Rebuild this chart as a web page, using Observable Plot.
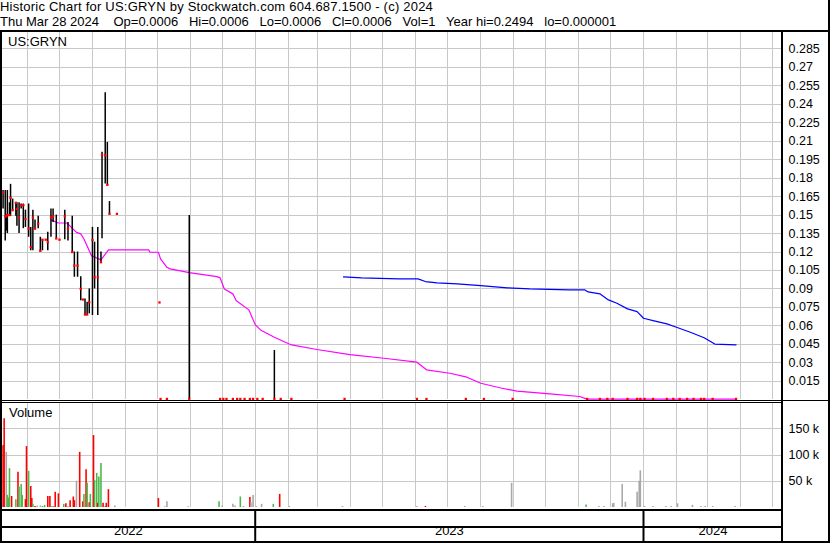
<!DOCTYPE html>
<html><head><meta charset="utf-8">
<script src="https://cdn.jsdelivr.net/npm/d3@7"></script>
<script src="https://cdn.jsdelivr.net/npm/@observablehq/plot@0.6"></script>
<style>
body{margin:0;background:#fff;}
#wrap{position:relative;width:830px;height:543px;overflow:hidden;background:#fff;font-family:"Liberation Sans",Arial,sans-serif;color:#000}
.txt{position:absolute;white-space:pre;font-size:13px;line-height:13px;z-index:3}
.ln{position:absolute;background:#000;z-index:4}
.pl{position:absolute;left:0;z-index:1}
.pl svg{background:transparent !important;overflow:visible}
</style></head><body><div id="wrap"></div>
<script>
// ---------- data ----------
const headerLine1 = "Historic Chart for US:GRYN by Stockwatch.com 604.687.1500 - (c) 2024";
const headerLine2 = "Thu Mar 28 2024    Op=0.0006   Hi=0.0006   Lo=0.0006   Cl=0.0006   Vol=1   Year hi=0.2494   lo=0.000001";
const symbolLabel = "US:GRYN";
const volumeLabel = "Volume";

const priceTicks = [0.015,0.03,0.045,0.06,0.075,0.09,0.105,0.12,0.135,0.15,0.165,0.18,0.195,0.21,0.225,0.24,0.255,0.27,0.285];
const volumeTicks = [50000,100000,150000];
const years = ["2022","2023","2024"];
const yearStarts = ["2022-01-01","2023-01-01","2024-01-01"];
const yearEnds = ["2023-01-01","2024-01-01","2025-01-01"];
const viewStart = "2022-05-07T12:00Z";
const viewEnd = "2024-05-10T16:00Z";

// daily bars: high / low / close
const barDates = ["2022-05-09","2022-05-11","2022-05-12","2022-05-13","2022-05-15","2022-05-16","2022-05-18","2022-05-21","2022-05-22","2022-05-24","2022-05-26","2022-05-28","2022-05-30","2022-06-02","2022-06-04","2022-06-06","2022-06-08","2022-06-11","2022-06-13","2022-06-15","2022-06-18","2022-06-20","2022-06-23","2022-06-25","2022-06-28","2022-07-01","2022-07-06","2022-07-09","2022-07-13","2022-07-15","2022-07-18","2022-07-21","2022-07-23","2022-07-25","2022-07-27","2022-07-29","2022-08-01","2022-08-03","2022-08-06","2022-08-09","2022-08-10","2022-08-13","2022-08-15","2022-08-17","2022-08-24","2022-10-03","2022-10-04","2022-10-10","2022-10-31","2022-11-29","2022-12-02","2022-12-05","2022-12-11","2022-12-15","2022-12-18","2022-12-22","2022-12-27","2022-12-30","2023-01-03","2023-01-08","2023-01-19","2023-01-25","2023-02-04","2023-03-26","2023-06-02","2023-06-11","2023-07-18","2023-08-04","2023-08-31","2023-11-09","2023-11-21","2023-11-28","2023-12-03","2023-12-17","2023-12-26","2023-12-29","2024-01-02","2024-01-10","2024-01-23","2024-01-29","2024-02-04","2024-02-11","2024-02-17","2024-02-24","2024-02-27","2024-03-06","2024-03-28"];
const barHigh = [0.170,0.170,0.150,0.170,0.160,0.175,0.163,0.160,0.160,0.160,0.159,0.159,0.154,0.159,0.140,0.154,0.146,0.149,0.132,0.130,0.130,0.136,0.155,0.155,0.150,0.130,0.154,0.144,0.149,0.120,0.120,0.100,0.0814,0.0819,0.0792,0.090,0.140,0.128,0.140,0.120,0.201,0.2494,0.209,0.161,0.151,0.079,0.0006,0.0006,0.1497,0.0006,0.0006,0.0006,0.0006,0.0006,0.0006,0.0006,0.0006,0.0006,0.0006,0.0006,0.040,0.0006,0.0006,0.0006,0.0006,0.0006,0.0006,0.0006,0.0006,0.0006,0.0006,0.0006,0.0006,0.0006,0.0006,0.0006,0.0006,0.0006,0.0006,0.0006,0.0006,0.0006,0.0006,0.0006,0.0006,0.0006,0.0006];
const barLow = [0.155,0.129,0.137,0.135,0.149,0.149,0.154,0.149,0.141,0.135,0.155,0.139,0.140,0.132,0.121,0.121,0.139,0.139,0.120,0.121,0.130,0.121,0.132,0.144,0.131,0.130,0.130,0.129,0.120,0.0995,0.0995,0.0805,0.0814,0.0684,0.0692,0.0698,0.0684,0.090,0.0684,0.1117,0.1307,0.1753,0.174,0.151,0.151,0.079,0.0006,0.0006,0.0006,0.0006,0.0006,0.0006,0.0006,0.0006,0.0006,0.0006,0.0006,0.0006,0.0006,0.0006,0.0006,0.0006,0.0006,0.0006,0.0006,0.0006,0.0006,0.0006,0.0006,0.0006,0.0006,0.0006,0.0006,0.0006,0.0006,0.0006,0.0006,0.0006,0.0006,0.0006,0.0006,0.0006,0.0006,0.0006,0.0006,0.0006,0.0006];
const barClose = [0.1685,0.149,0.149,0.150,0.150,0.164,0.154,0.160,0.155,0.148,0.158,0.158,0.147,0.139,0.124,0.148,0.139,0.143,0.121,0.130,0.130,0.128,0.148,0.149,0.131,0.130,0.149,0.139,0.120,0.109,0.109,0.090,0.0814,0.0692,0.0692,0.0792,0.1298,0.0995,0.0995,0.1117,0.199,0.1985,0.1745,0.151,0.151,0.079,0.0006,0.0006,0.0006,0.0006,0.0006,0.0006,0.0006,0.0006,0.0006,0.0006,0.0006,0.0006,0.0006,0.0006,0.0006,0.0006,0.0006,0.0006,0.0006,0.0006,0.0006,0.0006,0.0006,0.0006,0.0006,0.0006,0.0006,0.0006,0.0006,0.0006,0.0006,0.0006,0.0006,0.0006,0.0006,0.0006,0.0006,0.0006,0.0006,0.0006,0.0006];

// short moving average (magenta)
const maShortDates = ["2022-06-23","2022-06-30","2022-07-08","2022-07-17","2022-07-21","2022-07-24","2022-07-31","2022-08-09","2022-08-16","2022-09-23","2022-09-24","2022-10-02","2022-10-04","2022-10-10","2022-10-13","2022-10-31","2022-11-26","2022-11-29","2022-12-03","2022-12-11","2022-12-14","2022-12-26","2023-01-01","2023-01-06","2023-01-19","2023-02-03","2023-02-28","2023-03-31","2023-05-02","2023-06-02","2023-06-11","2023-07-03","2023-07-19","2023-08-01","2023-08-19","2023-09-04","2023-10-05","2023-11-02","2023-11-09","2024-03-28"];
const maShortValues = [0.1461,0.1436,0.1436,0.136,0.1347,0.1306,0.1171,0.1136,0.1217,0.1217,0.1198,0.1198,0.1144,0.1076,0.1063,0.1033,0.1000,0.0990,0.0900,0.0860,0.0806,0.0730,0.0610,0.0567,0.0508,0.0448,0.0408,0.0367,0.0337,0.0305,0.0243,0.0215,0.0183,0.0134,0.0097,0.0069,0.0048,0.0026,0.0005,0.0005];

// long moving average (blue)
const maLongDates = ["2023-03-25","2023-04-11","2023-05-16","2023-06-03","2023-06-10","2023-06-21","2023-07-10","2023-08-01","2023-08-26","2023-09-16","2023-10-23","2023-11-07","2023-11-10","2023-11-21","2023-11-29","2023-12-07","2023-12-17","2023-12-26","2024-01-01","2024-01-10","2024-01-23","2024-02-01","2024-02-14","2024-02-27","2024-03-08","2024-03-28"];
const maLongValues = [0.0998,0.0990,0.0982,0.0982,0.0960,0.0949,0.0941,0.0927,0.0909,0.0900,0.0892,0.0892,0.0876,0.0860,0.0811,0.0784,0.0738,0.0716,0.0662,0.0643,0.0616,0.0589,0.0548,0.0503,0.0452,0.0446];

// volume: d = down (red), u = up (green), f = flat (grey)
const volDates = ["2022-05-09","2022-05-10","2022-05-12","2022-05-13","2022-05-14","2022-05-15","2022-05-17","2022-05-21","2022-05-23","2022-05-24","2022-05-26","2022-05-27","2022-05-30","2022-05-31","2022-06-02","2022-06-04","2022-06-05","2022-06-06","2022-06-08","2022-06-10","2022-06-13","2022-06-15","2022-06-17","2022-06-20","2022-06-22","2022-06-23","2022-06-25","2022-06-27","2022-06-30","2022-07-05","2022-07-07","2022-07-09","2022-07-11","2022-07-14","2022-07-15","2022-07-17","2022-07-20","2022-07-23","2022-07-24","2022-07-26","2022-07-27","2022-07-29","2022-07-30","2022-08-02","2022-08-03","2022-08-05","2022-08-06","2022-08-07","2022-08-09","2022-08-11","2022-08-13","2022-08-14","2022-08-16","2022-08-22","2022-10-02","2022-10-08","2022-10-10","2022-10-30","2022-11-28","2022-12-01","2022-12-11","2022-12-13","2022-12-18","2022-12-21","2022-12-27","2022-12-28","2022-12-30","2023-01-02","2023-01-07","2023-01-18","2023-01-24","2023-02-02","2023-03-24","2023-06-02","2023-06-10","2023-07-17","2023-08-03","2023-08-30","2023-11-08","2023-11-20","2023-11-25","2023-12-03","2023-12-04","2023-12-12","2023-12-15","2023-12-26","2023-12-28","2023-12-29","2024-01-02","2024-01-10","2024-01-22","2024-01-27","2024-02-02","2024-02-16","2024-02-24","2024-02-28","2024-03-06","2024-03-27"];
const volValues = [118000,169000,105000,23000,18000,74000,21000,15000,67000,39000,44000,23000,15000,116000,69000,40000,17000,6000,2000,3000,3000,2000,4000,21000,21000,2000,1500,29000,26000,6000,7000,1500,13000,20000,13000,50000,105000,11000,25000,72000,46000,9000,25000,137000,51000,65000,8000,58000,84000,8000,2000,8000,34000,3000,17000,1500,11000,1500,11000,3000,6000,3000,20000,2000,19000,9000,23000,1500,6000,6000,25000,2000,2000,2000,2000,2000,2000,46000,5000,2000,2000,7000,8000,44000,10000,29000,50000,70000,2000,2000,2000,2000,7000,4000,2000,2000,2000,2000];
const volDir = ["d","d","f","u","u","u","d","u","d","u","u","u","d","d","u","d","d","u","d","f","f","u","u","d","d","u","d","d","d","u","d","u","d","d","d","f","d","d","u","d","u","d","u","d","u","u","d","u","u","d","u","d","d","f","d","f","f","f","u","f","f","f","u","f","d","f","f","f","f","u","d","f","f","f","d","f","f","f","u","f","f","f","f","f","f","f","f","f","f","f","f","f","f","f","f","f","f","f"];

// ---------- build ----------
const FONT = '"Liberation Sans", Arial, sans-serif';
const GRID = "#c8c8c8";
const xDomain = [new Date(viewStart), new Date(viewEnd)];
const monthStarts = d3.utcMonth.range(xDomain[0], xDomain[1]);

const bars = barDates.map((d, i) => ({date: new Date(d), high: barHigh[i], low: barLow[i], close: barClose[i]}));
const maShort = maShortDates.map((d, i) => ({date: new Date(d), value: maShortValues[i]}));
const maLong = maLongDates.map((d, i) => ({date: new Date(d), value: maLongValues[i]}));
const vols = volDates.map((d, i) => ({date: new Date(d), vol: volValues[i], dir: volDir[i]}));
const yearRows = years.map((y, i) => {
  const s = Math.max(+new Date(yearStarts[i]), +xDomain[0]);
  const e = Math.min(+new Date(yearEnds[i]), +xDomain[1]);
  return {label: y, mid: new Date((s + e) / 2), start: new Date(yearStarts[i])};
});
const boundaries = yearRows.filter(r => r.start > xDomain[0]).map(r => r.start);

const common = {
  width: 830, marginLeft: 1, marginRight: 48, marginTop: 0,
  style: {fontFamily: FONT, fontSize: "12.5px", color: "#000", background: "transparent", overflow: "visible"},
  x: {type: "utc", domain: xDomain, axis: null}
};

const pricePlot = Plot.plot({
  ...common, height: 370, marginBottom: 0.8,
  y: {domain: [0, 0.3], axis: "right", ticks: priceTicks, tickSize: 0, tickPadding: 6,
      tickFormat: d => String(+d.toFixed(3)), label: null},
  marks: [
    Plot.ruleX(monthStarts, {stroke: GRID, strokeOpacity: 1, shapeRendering: "crispEdges"}),
    Plot.ruleY(priceTicks, {stroke: GRID, strokeOpacity: 1, shapeRendering: "crispEdges"}),
    Plot.line(maShort, {x: "date", y: "value", stroke: "#ff00ff", strokeWidth: 1.2}),
    Plot.line(maLong, {x: "date", y: "value", stroke: "#0000ff", strokeWidth: 1.2}),
    Plot.ruleX(bars, {x: "date", y1: "low", y2: "high", stroke: "#000", strokeWidth: 1.5}),
    Plot.dot(bars, {x: "date", y: "close", symbol: "square", r: 1.3, fill: "#ff0000", stroke: null})
  ]
});

const volumePlot = Plot.plot({
  ...common, height: 107, marginBottom: 2,
  y: {domain: [0, 200000], axis: "right", ticks: volumeTicks, tickSize: 0, tickPadding: 6,
      tickFormat: d => (d / 1000) + " k", label: null},
  color: {domain: ["d", "u", "f"], range: ["#ff0000", "#4cb84c", "#a8a8a8"]},
  marks: [
    Plot.ruleX(monthStarts, {stroke: GRID, strokeOpacity: 1, shapeRendering: "crispEdges"}),
    Plot.ruleY(volumeTicks, {stroke: GRID, strokeOpacity: 1, shapeRendering: "crispEdges"}),
    Plot.ruleX(vols, {x: "date", y1: 0, y2: "vol", stroke: "dir", strokeWidth: 1.6})
  ]
});

const datePlot = Plot.plot({
  ...common, height: 34, marginBottom: 0,
  style: {...common.style, fontSize: "13px"},
  marks: [
    Plot.ruleX(boundaries, {stroke: "#000", strokeWidth: 2}),
    Plot.text(yearRows, {x: "mid", text: "label", frameAnchor: "bottom", dy: -8.5, fill: "#000", fontSize: 13})
  ]
});

const wrap = document.getElementById("wrap");
function place(node, top) {
  const div = document.createElement("div");
  div.className = "pl"; div.style.top = top + "px";
  div.appendChild(node); wrap.appendChild(div);
}
place(pricePlot, 30);
place(volumePlot, 402);
place(datePlot, 509);

function text(str, left, top, spacing) {
  const d = document.createElement("div");
  d.className = "txt"; d.textContent = str;
  d.style.left = left + "px"; d.style.top = top + "px";
  if (spacing) d.style.letterSpacing = spacing + "px";
  wrap.appendChild(d);
}
text(headerLine1, 0, 0, 0.22);
text(headerLine2, 0, 15);
text(symbolLabel, 8, 35);
text(volumeLabel, 9, 406);

function line(l, t, w, h) {
  const d = document.createElement("div");
  d.className = "ln";
  Object.assign(d.style, {left: l + "px", top: t + "px", width: w + "px", height: h + "px"});
  wrap.appendChild(d);
}
line(0, 30, 830, 2);     // header rule
line(0, 30, 2, 513);     // left border
line(828, 0, 2, 543);    // right border
line(0, 541, 830, 2);    // bottom border
line(781, 30, 2, 513);   // axis divider
line(0, 400, 782, 1);    // price bottom (double)
line(0, 402, 782, 1);
line(782, 400, 48, 1);
line(0, 509, 782, 2);    // volume bottom
line(0, 526, 782, 2);    // date band divider
</script></body></html>
